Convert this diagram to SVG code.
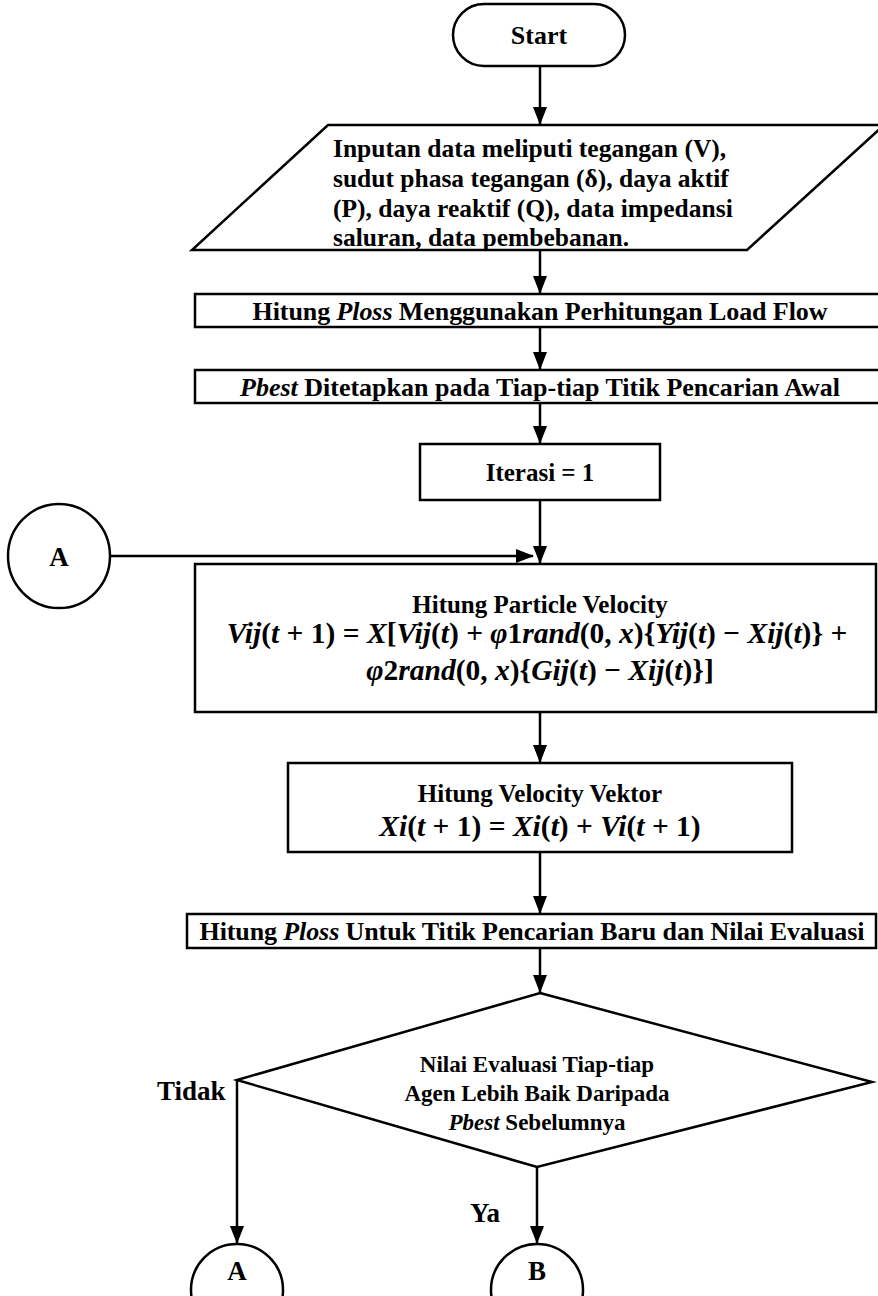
<svg xmlns="http://www.w3.org/2000/svg" width="878" height="1296" viewBox="0 0 878 1296">
<defs>
<marker id="arr" markerWidth="18" markerHeight="14" refX="17" refY="7" orient="auto" markerUnits="userSpaceOnUse" viewBox="0 0 18 14">
<path d="M0,0 L18,7 L0,14 Z" fill="#000"/>
</marker>
</defs>
<style>
.s{fill:#fff;stroke:#000;stroke-width:2.5}
.c{fill:none;stroke:#000;stroke-width:2.5}
text{font-family:"Liberation Serif","Times New Roman",serif;font-weight:bold;fill:#000}
.m{text-anchor:middle}
.i{font-style:italic}
</style>
<rect width="878" height="1296" fill="#fff"/>
<g id="start">
<rect class="s" x="453" y="4" width="172" height="62" rx="31"/>
<text class="m" x="539" y="44" font-size="26">Start</text>
</g>
<g id="input">
<polygon class="s" points="328,125 884,125 747,250 192,250"/>
<text x="333" y="157" font-size="25.5">Inputan data meliputi tegangan (V),</text>
<text x="333" y="187" font-size="25.5">sudut phasa tegangan (δ), daya aktif</text>
<text x="333" y="217" font-size="25.5">(P), daya reaktif (Q), data impedansi</text>
<text x="333" y="246" font-size="25.5">saluran, data pembebanan.</text>
</g>
<g id="ploss1">
<rect class="s" x="195" y="294" width="690" height="33"/>
<text class="m" x="540" y="320" font-size="26" textLength="575">Hitung <tspan class="i">Ploss</tspan> Menggunakan Perhitungan Load Flow</text>
</g>
<g id="pbest">
<rect class="s" x="195" y="370" width="690" height="33"/>
<text class="m" x="540" y="396" font-size="26" textLength="600"><tspan class="i">Pbest</tspan> Ditetapkan pada Tiap-tiap Titik Pencarian Awal</text>
</g>
<g id="iterasi">
<rect class="s" x="420" y="444" width="240" height="56"/>
<text class="m" x="540" y="481" font-size="25">Iterasi = 1</text>
</g>
<g id="connA1">
<ellipse class="s" cx="59" cy="556" rx="51" ry="52"/>
<text class="m" x="59" y="566" font-size="27">A</text>
</g>
<g id="velocity">
<rect class="s" x="195" y="564" width="681" height="148"/>
<text class="m" x="540" y="613" font-size="25">Hitung Particle Velocity</text>
<text class="m" x="537" y="643" font-size="29.5"><tspan class="i">Vij</tspan>(<tspan class="i">t</tspan> + 1) = <tspan class="i">X</tspan>[<tspan class="i">Vij</tspan>(<tspan class="i">t</tspan>) + <tspan class="i">φ</tspan>1<tspan class="i">rand</tspan>(0, <tspan class="i">x</tspan>){<tspan class="i">Yij</tspan>(<tspan class="i">t</tspan>) − <tspan class="i">Xij</tspan>(<tspan class="i">t</tspan>)} +</text>
<text class="m" x="540" y="680" font-size="29.5"><tspan class="i">φ</tspan>2<tspan class="i">rand</tspan>(0, <tspan class="i">x</tspan>){<tspan class="i">Gij</tspan>(<tspan class="i">t</tspan>) − <tspan class="i">Xij</tspan>(<tspan class="i">t</tspan>)}]</text>
</g>
<g id="vektor">
<rect class="s" x="288" y="763" width="504" height="89"/>
<text class="m" x="540" y="802" font-size="25">Hitung Velocity Vektor</text>
<text class="m" x="540" y="836" font-size="29.5"><tspan class="i">Xi</tspan>(<tspan class="i">t</tspan> + 1) = <tspan class="i">Xi</tspan>(<tspan class="i">t</tspan>) + <tspan class="i">Vi</tspan>(<tspan class="i">t</tspan> + 1)</text>
</g>
<g id="ploss2">
<rect class="s" x="187" y="914" width="689" height="34"/>
<text class="m" x="532" y="940" font-size="26" textLength="665">Hitung <tspan class="i">Ploss</tspan> Untuk Titik Pencarian Baru dan Nilai Evaluasi</text>
</g>
<g id="decision">
<polygon class="s" points="540,993 872,1082 537,1167 237,1080"/>
<text class="m" x="537" y="1072" font-size="23">Nilai Evaluasi Tiap-tiap</text>
<text class="m" x="537" y="1101" font-size="23">Agen Lebih Baik Daripada</text>
<text class="m" x="537" y="1130" font-size="23"><tspan class="i">Pbest</tspan> Sebelumnya</text>
</g>
<g id="connA2">
<ellipse class="s" cx="237" cy="1290" rx="46" ry="46"/>
<text class="m" x="237" y="1280" font-size="27">A</text>
</g>
<g id="connB">
<ellipse class="s" cx="537" cy="1290" rx="46" ry="46"/>
<text class="m" x="537" y="1280" font-size="27">B</text>
</g>
<g id="connectors">
<line class="c" x1="540" y1="66" x2="540" y2="124" marker-end="url(#arr)"/>
<line class="c" x1="540" y1="250" x2="540" y2="293" marker-end="url(#arr)"/>
<line class="c" x1="540" y1="327" x2="540" y2="369" marker-end="url(#arr)"/>
<line class="c" x1="540" y1="403" x2="540" y2="443" marker-end="url(#arr)"/>
<line class="c" x1="540" y1="500" x2="540" y2="563" marker-end="url(#arr)"/>
<line class="c" x1="110" y1="556" x2="533" y2="556" marker-end="url(#arr)"/>
<line class="c" x1="540" y1="712" x2="540" y2="762" marker-end="url(#arr)"/>
<line class="c" x1="540" y1="852" x2="540" y2="913" marker-end="url(#arr)"/>
<line class="c" x1="540" y1="948" x2="540" y2="992" marker-end="url(#arr)"/>
<line class="c" x1="237" y1="1080" x2="237" y2="1243" marker-end="url(#arr)"/>
<line class="c" x1="537" y1="1167" x2="537" y2="1243" marker-end="url(#arr)"/>
<text x="157" y="1100" font-size="27">Tidak</text>
<text x="470" y="1222" font-size="27">Ya</text>
</g>
</svg>
